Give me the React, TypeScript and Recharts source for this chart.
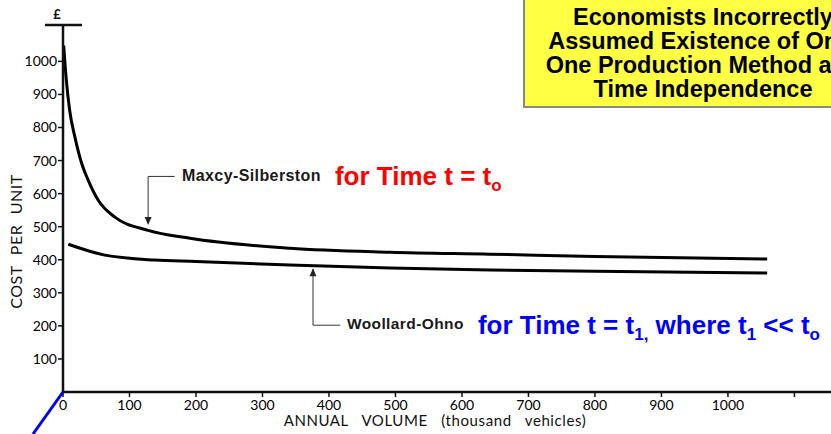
import {
  LineChart,
  Line,
  XAxis,
  YAxis,
  ReferenceLine,
  ReferenceDot,
} from "recharts";

// Maxcy-Silberston curve (time t0), thousand vehicles -> £ per unit
const maxcyVolume = [1, 5, 10, 18, 28, 38, 53, 78, 128, 191, 341, 492, 642, 800, 1059];
const maxcyCost = [1048, 943, 852, 770, 692, 640, 580, 529, 489, 465, 435, 423, 417, 410, 402];

// Woollard-Ohno curve (time t1)
const woollardVolume = [8, 63, 138, 200, 341, 492, 642, 800, 1059];
const woollardCost = [447, 414, 399, 395, 384, 375, 369, 365, 360];

const xTicks = [0, 100, 200, 300, 400, 500, 600, 700, 800, 900, 1000, 1100];
const yTicks = [100, 200, 300, 400, 500, 600, 700, 800, 900, 1000];

const boxLines = [
  "Economists Incorrectly",
  "Assumed Existence of Only",
  "One Production Method and",
  "Time Independence",
];

const maxcyData = maxcyVolume.map((v, i) => ({ volume: v, cost: maxcyCost[i] }));
const woollardData = woollardVolume.map((v, i) => ({ volume: v, cost: woollardCost[i] }));

const SCAN_FONT = "'Lato', 'DejaVu Sans', sans-serif";
const ARIAL = "'Liberation Sans', Arial, sans-serif";

function YAxisDecor(props: any) {
  const { x, y, width, height } = props.viewBox;
  const ax = x + width;
  return (
    <g>
      <line x1={ax - 18} x2={ax + 19} y1={y} y2={y} stroke="#111" strokeWidth={2.5} />
      <text x={ax - 6} y={y - 6} fontFamily={SCAN_FONT} fontSize={13} fontWeight={700} fill="#111" textAnchor="middle">
        £
      </text>
      <text
        transform={`translate(${x + 18}, ${y + height / 2 + 33}) rotate(-90)`}
        fontFamily={SCAN_FONT}
        fontSize={16}
        fill="#111"
        textAnchor="middle"
        dominantBaseline="middle"
        wordSpacing={6}
        letterSpacing={0.5}
      >
        COST PER UNIT
      </text>
    </g>
  );
}

function XAxisDecor(props: any) {
  const { x, y } = props.viewBox;
  return (
    <g>
      <line x1={x} y1={y} x2={x - 30} y2={y + 42} stroke="#0000ff" strokeWidth={3} />
      <text
        x={435}
        y={y + 30}
        fontFamily={SCAN_FONT}
        fontSize={15}
        fill="#111"
        textAnchor="middle"
        dominantBaseline="middle"
        wordSpacing={9}
        letterSpacing={0.6}
      >
        ANNUAL VOLUME (thousand vehicles)
      </text>
    </g>
  );
}

const arrowDown = (p: any) => (
  <path d={`M${p.cx - 3.5},${p.cy - 8} L${p.cx + 3.5},${p.cy - 8} L${p.cx},${p.cy} Z`} fill="#222" />
);
const arrowUp = (p: any) => (
  <path d={`M${p.cx - 3.5},${p.cy + 8} L${p.cx + 3.5},${p.cy + 8} L${p.cx},${p.cy} Z`} fill="#222" />
);

const curveName = (text: string, size: number) => (p: any) => (
  <text x={p.cx} y={p.cy} fontFamily={ARIAL} fontWeight={700} fontSize={size} fill="#1a1a1a" dominantBaseline="middle" letterSpacing={0.4}>
    {text}
  </text>
);

const redNote = (p: any) => (
  <text x={p.cx} y={p.cy + 9} fontFamily={ARIAL} fontWeight={700} fontSize={26} fill="#ff0000">
    for Time t = t
    <tspan fontSize={17} dy={6}>o</tspan>
  </text>
);

const blueNote = (p: any) => (
  <text x={p.cx} y={p.cy + 9} fontFamily={ARIAL} fontWeight={700} fontSize={26} fill="#0000ff">
    for Time t = t
    <tspan fontSize={17} dy={6}>1,</tspan>
    <tspan dy={-6}> where t</tspan>
    <tspan fontSize={17} dy={6}>1</tspan>
    <tspan dy={-6}> {"<<"} t</tspan>
    <tspan fontSize={17} dy={6}>o</tspan>
  </text>
);

export default function App() {
  return (
    <div style={{ position: "absolute", left: 0, top: 0, width: 831, height: 434, overflow: "hidden", background: "#fff" }}>
      <LineChart width={831} height={434} margin={{ top: 25, right: 0, left: 0, bottom: 0 }}>
        <XAxis
          dataKey="volume"
          type="number"
          domain={[0, 1155]}
          ticks={xTicks}
          allowDataOverflow
          height={42}
          tickFormatter={(v) => (v === 1100 ? "" : String(v))}
          axisLine={{ stroke: "#111", strokeWidth: 2.5 }}
          tickLine={{ stroke: "#111", strokeWidth: 1.5 }}
          tickSize={5}
          tickMargin={3}
          tick={{ fontFamily: SCAN_FONT, fontSize: 14, fill: "#000" }}
          label={{ content: XAxisDecor }}
        />
        <YAxis
          dataKey="cost"
          type="number"
          domain={[0, 1110]}
          ticks={yTicks}
          allowDataOverflow
          width={63}
          axisLine={{ stroke: "#111", strokeWidth: 2.5 }}
          tickLine={{ stroke: "#111", strokeWidth: 1.5 }}
          tickSize={5}
          tickMargin={1}
          tick={{ fontFamily: SCAN_FONT, fontSize: 14, fill: "#000" }}
          label={{ content: YAxisDecor }}
        />
        <Line
          data={maxcyData}
          dataKey="cost"
          type="monotone"
          stroke="#000"
          strokeWidth={3}
          dot={false}
          isAnimationActive={false}
        />
        <Line
          data={woollardData}
          dataKey="cost"
          type="monotone"
          stroke="#000"
          strokeWidth={3}
          dot={false}
          isAnimationActive={false}
        />
        <ReferenceLine segment={[{ x: 128, y: 510 }, { x: 128, y: 652 }]} stroke="#333" strokeWidth={1} />
        <ReferenceLine segment={[{ x: 128, y: 652 }, { x: 168, y: 652 }]} stroke="#333" strokeWidth={1} />
        <ReferenceLine segment={[{ x: 376, y: 372 }, { x: 376, y: 202 }]} stroke="#333" strokeWidth={1} />
        <ReferenceLine segment={[{ x: 376, y: 202 }, { x: 417, y: 202 }]} stroke="#333" strokeWidth={1} />
        <ReferenceDot x={128} y={505} shape={arrowDown} />
        <ReferenceDot x={376} y={374} shape={arrowUp} />
        <ReferenceDot x={179} y={652} shape={curveName("Maxcy-Silberston", 16)} />
        <ReferenceDot x={409} y={652} shape={redNote} />
        <ReferenceDot x={427} y={202} shape={curveName("Woollard-Ohno", 15.5)} />
        <ReferenceDot x={624} y={202} shape={blueNote} />
      </LineChart>
      <div
        style={{
          position: "absolute",
          left: 523,
          top: -2,
          width: 358,
          height: 110,
          background: "#ffff44",
          borderLeft: "2px solid #888",
          borderBottom: "2px solid #888",
          boxSizing: "border-box",
          fontFamily: ARIAL,
          fontWeight: 700,
          fontSize: 23.5,
          lineHeight: "24px",
          color: "#000",
          textAlign: "center",
          paddingTop: 7,
          whiteSpace: "nowrap",
        }}
      >
        {boxLines.map((l) => (
          <div key={l}>{l}</div>
        ))}
      </div>
    </div>
  );
}
